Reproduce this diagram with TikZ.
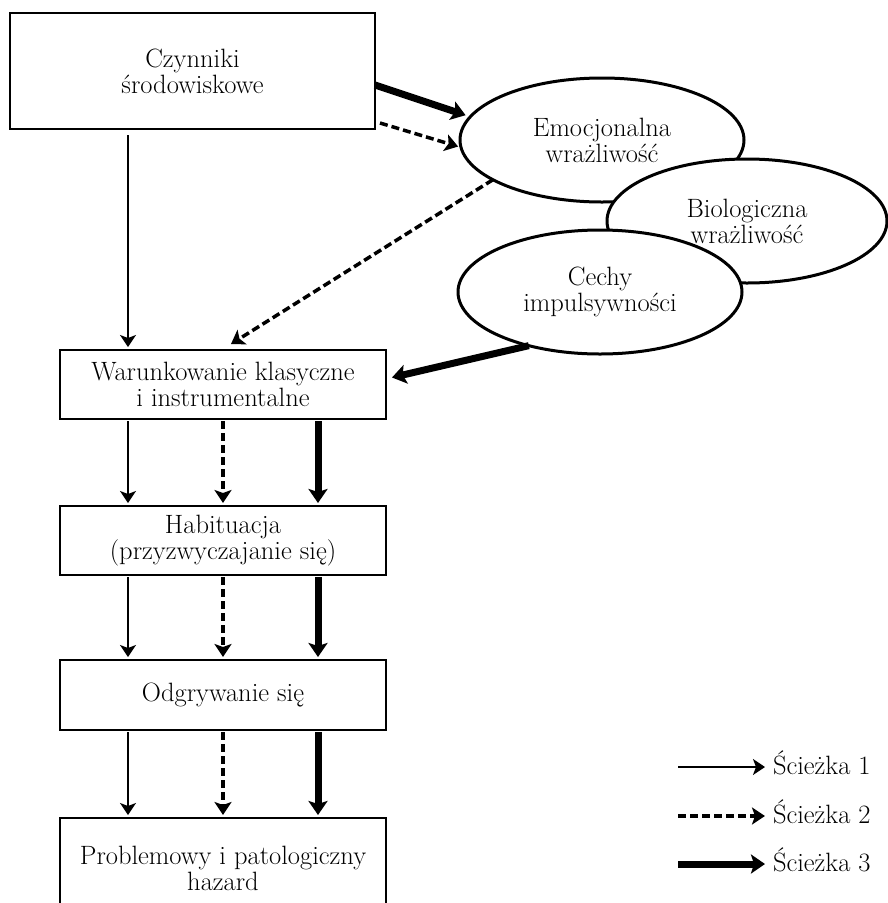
\documentclass[tikz,border=0pt]{standalone}
\usepackage{fontspec}
\usepackage{tikz}
\usetikzlibrary{shapes,shapes.geometric,arrows.meta,calc,positioning}
\tikzset{
  box/.style={draw, line width=1.8pt, fill=white, minimum width=326pt, text centered,
  minimum height=69pt, align=center, inner sep=0pt, font=\fontsize{26.5}{26}\selectfont},
ell/.style = {ellipse, draw, line width=3pt, fill=white, align=center, inner sep=0pt,
minimum width=284pt, minimum height=124pt, font=\fontsize{26.5}{26}\selectfont},
legend/.style = {inner sep=0pt, font=\fontsize{26.5}{26}\selectfont},
p1/.style={line width=1.8pt, -{Stealth[length=12pt,width=16pt,inset=3pt]}},
p2/.style={line width=3.5pt, dash pattern=on 8pt off 4pt,
	-{Stealth[length=13pt,width=17pt,inset=3pt]}},
p3/.style={line width=7pt, -{Stealth[length=14pt,width=19pt,inset=3pt]}}
}

\begin{document}
\begin{tikzpicture}[x=1pt,y=-1pt,outer sep=0pt]
			\useasboundingbox (0,0) rectangle (888,903);
			\node (A) [box,minimum width=365pt,minimum height=116pt] at (192.5,71)
			{Czynniki\\środowiskowe};
			\node (E) [ell] at (602,140) {Emocjonalna\\wrażliwość};
			\node (B) [ell,minimum width=280pt] at (747,221) {Biologiczna\\wrażliwość};
			\node (C) [ell] at (600,292) {Cechy\\impulsywności};
			\node (W) [box] at (223,384.5) {Warunkowanie klasyczne\\i instrumentalne};
			\node (H) [box] at (223,540.5) {Habituacja\\(przyzwyczajanie się)};
			\node (O) [box,minimum height=70pt] at (223,695) {Odgrywanie się};
			\node (P) [box,minimum height=100pt] at (223,868)
			{Problemowy i patologiczny\\hazard};
			\path ([yshift=-14pt]A.east) edge [p3,shorten >=5pt] (E.170);
			\path ([xshift=5pt,yshift=6pt]A.south east) edge [p2,shorten >=3pt] (E.183);
			\path (E.200) edge [p2] ([xshift=8pt,yshift=6pt]W.north);
			\path (C.217) edge [p3] ([xshift=6pt,yshift=7pt]W.east);
			\path ([xshift=-64.5pt,yshift=-6pt]A.south) edge [p1,shorten >=3pt]
			([xshift=-95pt]W.north);
			\foreach \a/\b in {W/H,H/O,O/P} {
				\path ([xshift=-95pt]\a.south) edge [p1,shorten <=2pt,shorten >=3pt]
				([xshift=-95pt]\b.north);
				\path (\a.south) edge [p2,shorten <=2pt,shorten >=3pt] (\b.north);
				\path ([xshift=95pt]\a.south) edge [p3,shorten <=2pt,shorten >=3pt]
				([xshift=95pt]\b.north);
			}
			\node (S1) [legend,anchor=base west] at (773,774) {Ścieżka 1};
			\node (S2) [legend,anchor=base west] at (773,823) {Ścieżka 2};
			\node (S3) [legend,anchor=base west] at (773,871) {Ścieżka 3};
			\coordinate (L1) at (678,767);
			\coordinate (L2) at (678,816);
			\coordinate (L3) at (678,864);
			\path (L1) edge [p1,shorten >=8pt] (L1 -| S1.west);
			\path (L2) edge [p2,shorten >=8pt] (L2 -| S2.west);
			\path (L3) edge [p3,shorten >=8pt] (L3 -| S3.west);
\end{tikzpicture}
\end{document}
